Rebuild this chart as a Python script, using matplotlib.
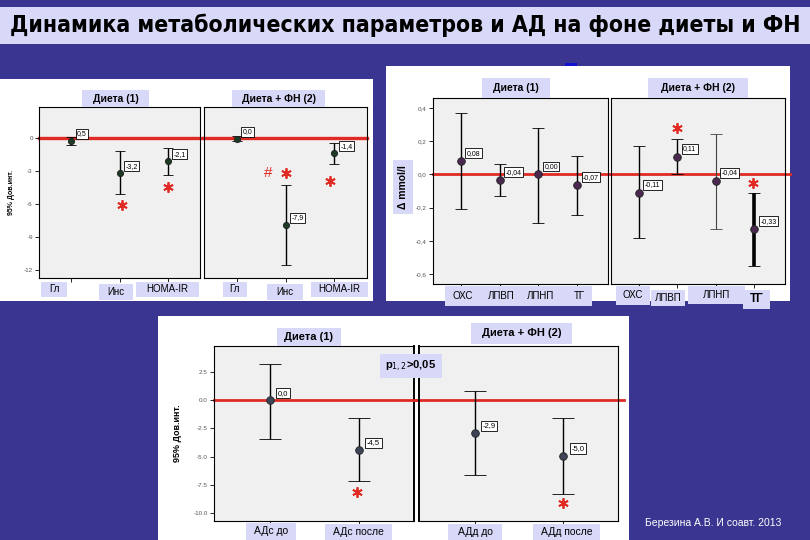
import numpy as np
import matplotlib
matplotlib.use("Agg")
import matplotlib.pyplot as plt
from matplotlib.patches import Rectangle

plt.rcParams['font.family'] = ['Liberation Sans', 'DejaVu Sans']

W, H = 810, 540
NAVY = '#3a3590'
LAV = '#d8d8f8'
RED = '#e02a24'
AXBG = '#f0f0f0'

# -----------------------------
# Данные (читаются с картинки)
# -----------------------------
carb_cats_1 = ['Гл', 'Инс', 'HOMA-IR']
carb_cats_2 = ['Гл', 'Инс', 'HOMA-IR']
carb_d_mean = [-0.25, -3.2, -2.1]
carb_d_lo = [-0.6, -5.1, -3.4]
carb_d_hi = [0.1, -1.2, -0.9]
carb_d_lbl = ['0,5', '-3,2', '-2,1']
carb_f_mean = [-0.1, -7.9, -1.4]
carb_f_lo = [-0.3, -11.5, -2.4]
carb_f_hi = [0.15, -4.3, -0.5]
carb_f_lbl = ['0,0', '-7,9', '-1,4']
carb_yticks = [0, -3, -6, -9, -12]
carb_ytick_lbl = ['0', '-3', '-6', '-9', '-12']

lip_cats = ['ОХС', 'ЛПВП', 'ЛПНП', 'ТГ']
lip_d_mean = [0.08, -0.035, 0.0, -0.065]
lip_d_lo = [-0.21, -0.13, -0.29, -0.245]
lip_d_hi = [0.37, 0.06, 0.28, 0.11]
lip_d_lbl = ['0,08', '-0,04', '0,00', '-0,07']
lip_f_mean = [-0.11, 0.107, -0.04, -0.33]
lip_f_lo = [-0.386, 0.0, -0.33, -0.55]
lip_f_hi = [0.17, 0.215, 0.245, -0.11]
lip_f_lbl = ['-0,11', '0,11', '-0,04', '-0,33']
lip_yticks = [0.4, 0.2, 0.0, -0.2, -0.4, -0.6]
lip_ytick_lbl = ['0,4', '0,2', '0,0', '-0,2', '-0,4', '-0,6']

bp_cats_1 = ['АДс до', 'АДс после']
bp_cats_2 = ['АДд до', 'АДд после']
bp_d_mean = [0.0, -4.37]
bp_d_lo = [-3.4, -7.2]
bp_d_hi = [3.25, -1.6]
bp_d_lbl = ['0,0', '-4,5']
bp_f_mean = [-2.87, -4.9]
bp_f_lo = [-6.6, -8.3]
bp_f_hi = [0.85, -1.6]
bp_f_lbl = ['-2,9', '-5,0']
bp_yticks = [2.5, 0.0, -2.5, -5.0, -7.5, -10.0]
bp_ytick_lbl = ['2.5', '0.0', '-2.5', '-5.0', '-7.5', '-10.0']

# значимость: (категория, уровень, знак)
carb_d_sig = [(1.05, -6.1, '*'), (2.0, -4.45, '*')]
carb_f_sig = [(0.64, -3.2, '#'), (1.02, -3.2, '*'), (1.9, -3.9, '*')]
lip_f_sig = [(1.0, 0.28, '*'), (2.97, -0.05, '*')]
bp_d_sig = [(0.98, -8.15, '*')]
bp_f_sig = [(1.0, -9.1, '*')]

fig = plt.figure(figsize=(W / 100, H / 100), dpi=100)
fig.patch.set_facecolor(NAVY)


def px_axes(x0, y0, x1, y1, z=0):
    return fig.add_axes([x0 / W, 1 - y1 / H, (x1 - x0) / W, (y1 - y0) / H], zorder=z)


# фон: полоса заголовка и белые панели
bg = px_axes(0, 0, W, H, z=-5)
bg.set_xlim(0, W)
bg.set_ylim(H, 0)
bg.axis('off')
bg.add_patch(Rectangle((0, 7), W, 37, fc=LAV, ec='none'))
bg.add_patch(Rectangle((0, 79), 373, 222, fc='white', ec='none'))
bg.add_patch(Rectangle((386, 66), 404, 235, fc='white', ec='none'))
bg.add_patch(Rectangle((565, 63), 12, 3, fc='#1010d0', ec='none'))
bg.add_patch(Rectangle((158, 316), 471, 224, fc='white', ec='none'))


def draw_group(ax, mean, lo, hi, lbls, sig, xlim, ylim, col, cap, ms, lws=None,
               ecols=None, off=(5, 6), fs=5, redext=(0, 1), redlw=2):
    mean = np.array(mean)
    lo = np.array(lo)
    hi = np.array(hi)
    x = np.arange(len(mean))
    ax.set_facecolor(AXBG)
    ax.axhline(0, xmin=redext[0], xmax=redext[1], color=RED, lw=redlw,
               clip_on=False, zorder=1)
    for i in range(len(mean)):
        lw = 1.0 if lws is None else lws[i]
        ec = 'black' if ecols is None else ecols[i]
        ax.errorbar(x[i], mean[i], yerr=[[mean[i] - lo[i]], [hi[i] - mean[i]]],
                    fmt='o', color=col, mec='#202020', mew=0.6, ms=ms,
                    ecolor=ec, elinewidth=lw, capsize=cap, capthick=0.9, zorder=3)
        ax.annotate(lbls[i], (x[i], mean[i]), xytext=off, textcoords='offset pixels',
                    fontsize=fs, ha='left', va='center', zorder=4,
                    bbox=dict(boxstyle='square,pad=0.2', fc='white', ec='black', lw=0.6))
    for sx, sy, s in sig:
        if s == '*':
            ax.plot(sx, sy, marker=(6, 2, 0), ms=7.5, mew=1.3, color=RED,
                    clip_on=False, zorder=4)
        else:
            ax.text(sx, sy, s, color=RED, fontsize=11, ha='center', va='center',
                    zorder=4)
    ax.set_xlim(*xlim)
    ax.set_ylim(*ylim)
    ax.set_xticks(x)
    ax.set_xticklabels([])
    ax.tick_params(axis='x', length=3, width=0.6)
    for sp in ax.spines.values():
        sp.set_linewidth(0.8)


def yticks_left(ax, ticks, labels, fs=4.5):
    ax.set_yticks(ticks)
    ax.set_yticklabels(labels, fontsize=fs, color='#555555')
    ax.tick_params(axis='y', length=3, width=0.6, pad=1.5)


def no_yticks(ax):
    ax.set_yticks([])


# -----------------------------
# Панель 1: углеводный обмен
# -----------------------------
c_xlim = (-0.667, 2.667)
c_ylim = (-12.7, 2.8)
ax1 = px_axes(39, 107, 200, 278)
draw_group(ax1, carb_d_mean, carb_d_lo, carb_d_hi, carb_d_lbl, carb_d_sig,
           c_xlim, c_ylim, '#1c3a24', 3.5, 4.5, off=(6, 7), redext=(0, 1.03), redlw=2.4)
yticks_left(ax1, carb_yticks, carb_ytick_lbl)
ax1.set_ylabel('95% Дов.инт.', fontsize=5, fontweight='bold', labelpad=6)

ax2 = px_axes(204, 107, 367, 278)
draw_group(ax2, carb_f_mean, carb_f_lo, carb_f_hi, carb_f_lbl, carb_f_sig,
           c_xlim, c_ylim, '#1c3a24', 3.5, 4.5, off=(6, 7), redlw=2.4)
no_yticks(ax2)

# -----------------------------
# Панель 2: липиды
# -----------------------------
l_xlim = (-0.72, 3.8)
l_ylim = (-0.66, 0.46)
ax3 = px_axes(433, 98, 608, 284)
draw_group(ax3, lip_d_mean, lip_d_lo, lip_d_hi, lip_d_lbl, [],
           l_xlim, l_ylim, '#4a2850', 4, 5.5, off=(6, 8), redext=(0, 1.02))
yticks_left(ax3, lip_yticks, lip_ytick_lbl)

ax4 = px_axes(611, 98, 785, 284)
draw_group(ax4, lip_f_mean, lip_f_lo, lip_f_hi, lip_f_lbl, lip_f_sig,
           l_xlim, l_ylim, '#4a2850', 4, 5.5, lws=[1, 1, 0.8, 2.6],
           ecols=['black', 'black', '#444444', 'black'], off=(6, 8), redext=(0, 1.03))
no_yticks(ax4)

# -----------------------------
# Панель 3: АД
# -----------------------------
b_xlim = (-0.63, 1.62)
b_ylim = (-10.7, 4.8)
ax5 = px_axes(214, 346, 414, 521)
draw_group(ax5, bp_d_mean, bp_d_lo, bp_d_hi, bp_d_lbl, bp_d_sig,
           b_xlim, b_ylim, '#3c4456', 8, 5.5, off=(8, 7), fs=5.5, redext=(0, 1.03))
yticks_left(ax5, bp_yticks, bp_ytick_lbl)
ax5.set_ylabel('95% Дов.инт.', fontsize=6.5, fontweight='bold', labelpad=8)
ax5.spines['right'].set_linewidth(1.4)

ax6 = px_axes(419, 346, 618, 521)
draw_group(ax6, bp_f_mean, bp_f_lo, bp_f_hi, bp_f_lbl, bp_f_sig,
           b_xlim, b_ylim, '#3c4456', 8, 5.5, off=(8, 7), fs=5.5, redext=(-0.03, 1.03))
no_yticks(ax6)
ax6.spines['left'].set_linewidth(1.4)

# -----------------------------
# Подписи поверх графиков
# -----------------------------
ov = px_axes(0, 0, W, H, z=10)
ov.set_xlim(0, W)
ov.set_ylim(H, 0)
ov.axis('off')
ov.patch.set_alpha(0)


def box(x0, y0, x1, y1, txt='', fs=7, bold=False, tx=None):
    ov.add_patch(Rectangle((x0, y0), x1 - x0, y1 - y0, fc=LAV, ec='none'))
    if txt:
        ov.text((x0 + x1) / 2 if tx is None else tx, (y0 + y1) / 2, txt, fontsize=fs,
                ha='center', va='center', fontweight='bold' if bold else 'normal')


def cat_x(ax, i):
    return ax.transData.transform((i, 0))[0]


# заголовок: узкий шрифт, при необходимости уменьшаем размер
title = 'Динамика метаболических параметров и АД на фоне диеты и ФН'
t = ov.text(W / 2, 25.5, title, fontsize=17, fontweight='bold', ha='center',
            va='center', family=['DejaVu Sans'], fontstretch='condensed')
fig.canvas.draw()
tw = t.get_window_extent().width
if tw > 790:
    t.set_fontsize(17 * 790 / tw)

# заголовки групп
box(82, 90, 149, 107, 'Диета (1)', 7.5, True)
box(232, 90, 325, 107, 'Диета + ФН (2)', 7.5, True)
box(482, 78, 550, 98, 'Диета (1)', 7.5, True)
box(648, 78, 748, 98, 'Диета + ФН (2)', 7.5, True)
box(277, 328, 341, 346, 'Диета (1)', 8, True)
box(471, 323, 572, 344, 'Диета + ФН (2)', 8, True)

# подписи категорий
p1_boxes = [(41, 282, 67, 297), (99, 284, 133, 300), (136, 282, 199, 297)]
for (x0, y0, x1, y1), t_ in zip(p1_boxes, carb_cats_1):
    box(x0, y0, x1, y1, t_, 7)
p2_boxes = [(223, 282, 247, 297), (267, 284, 303, 300), (311, 282, 368, 297)]
for (x0, y0, x1, y1), t_ in zip(p2_boxes, carb_cats_2):
    box(x0, y0, x1, y1, t_, 7)

box(445, 286, 592, 306)
for i, t_ in enumerate(lip_cats):
    ov.text(cat_x(ax3, i) + 2, 296, t_, fontsize=7, ha='center', va='center')
p4_boxes = [(616, 286, 650, 305), (651, 290, 685, 306), (688, 286, 745, 304),
            (743, 290, 770, 309)]
p4_fs = [7, 7, 7, 8.5]
p4_bold = [False, False, False, True]
for (x0, y0, x1, y1), t_, f, b in zip(p4_boxes, lip_cats, p4_fs, p4_bold):
    box(x0, y0, x1, y1, t_, f, b)

p5_boxes = [(246, 523, 296, 540), (325, 524, 392, 540)]
for (x0, y0, x1, y1), t_ in zip(p5_boxes, bp_cats_1):
    box(x0, y0, x1, y1, t_, 7.5)
p6_boxes = [(448, 524, 502, 540), (533, 524, 600, 540)]
for (x0, y0, x1, y1), t_ in zip(p6_boxes, bp_cats_2):
    box(x0, y0, x1, y1, t_, 7.5)

# подпись оси липидов
ov.add_patch(Rectangle((393, 160), 20, 54, fc=LAV, ec='none'))
ov.text(403, 187, 'Δ mmol/l', fontsize=7.5, fontweight='bold', rotation=90,
        ha='center', va='center')

# p-значение
box(380, 354, 442, 378)
ov.text(411, 366, r'p$_{1,2}$>0,05', fontsize=8, fontweight='bold',
        ha='center', va='center')

ov.text(645, 523, 'Березина А.В. И соавт. 2013', fontsize=7.5, color='white',
        ha='left', va='center')

fig.savefig('out.png', dpi=100, facecolor=fig.get_facecolor())
